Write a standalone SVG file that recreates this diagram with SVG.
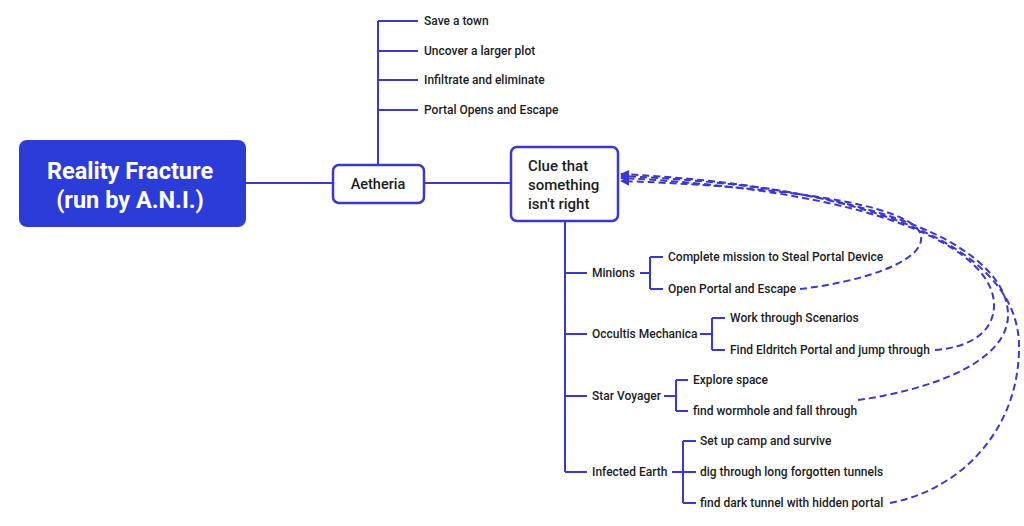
<svg xmlns="http://www.w3.org/2000/svg" width="1024" height="526" viewBox="0 0 1024 526">
<defs>
<style>
.ln{stroke:#3a38cf;stroke-width:2;fill:none}
.dl{stroke:#3a38cf;stroke-width:2;fill:none;stroke-dasharray:7 4;marker-end:url(#ah)}
.t{font-family:Roboto,"Liberation Sans",sans-serif;font-weight:500;font-size:12px;fill:#1c1c1c}
.box{fill:#fff;stroke:#3a38cf;stroke-width:2.5}
.rt{font-family:Roboto,"Liberation Sans",sans-serif;font-weight:700;font-size:23.5px;fill:#fff}
</style>
<marker id="ah" viewBox="0 0 10 10" refX="9" refY="5" markerWidth="4.5" markerHeight="4.5" orient="auto">
<path d="M0,0 L10,5 L0,10 z" fill="#3a38cf"/>
</marker>
</defs>
<rect width="1024" height="526" fill="#fff"/>
<g id="connectors">
<line class="ln" x1="246" y1="183" x2="333" y2="183"/>
<line class="ln" x1="424" y1="183" x2="511" y2="183"/>
<path class="ln" d="M378,165 V21 M378,21 H418 M378,51 H418 M378,80 H418 M378,110 H418"/>
<path class="ln" d="M565,221 V472 M565,273 H587 M565,334 H587 M565,396 H587 M565,472 H587"/>
<path class="ln" d="M640,273 H650 M650,257 V289 M650,257 H663 M650,289 H663"/>
<path class="ln" d="M700,334 H712 M712,318 V350 M712,318 H725 M712,350 H725"/>
<path class="ln" d="M664,396 H676 M676,380 V411 M676,380 H688 M676,411 H688"/>
<path class="ln" d="M672,472 H696 M683,441 V503 M683,441 H696 M683,503 H696"/>
<path class="dl" d="M800,289 C860,282 925,262 921,236 C917,210 820,188 621,181"/>
<path class="dl" d="M935,350 C965,348 994,335 994,305 C994,255 900,192 621,178"/>
<path class="dl" d="M858,400 C930,390 1008,362 1008,315 C1008,258 910,188 621,176"/>
<path class="dl" d="M890,503 C960,490 1020,430 1019,345 C1018,270 930,190 621,174"/>
</g>
<g id="root">
<rect x="19" y="140" width="227" height="87" rx="8" fill="#2c3cd8"/>
<text x="130" y="179" text-anchor="middle" class="rt">Reality Fracture</text>
<text x="130" y="208" text-anchor="middle" class="rt">(run by A.N.I.)</text>
</g>
<g id="aetheria">
<rect class="box" x="333" y="165" width="91" height="38" rx="6"/>
<text x="378" y="189" text-anchor="middle" class="t" style="font-size:14.5px">Aetheria</text>
</g>
<g id="clue">
<rect class="box" x="511" y="147" width="107" height="74" rx="6"/>
<text class="t" style="font-size:15px" x="528" y="171">Clue that</text>
<text class="t" style="font-size:15px" x="528" y="190">something</text>
<text class="t" style="font-size:15px" x="528" y="209">isn't right</text>
</g>
<g id="aetheria-children">
<text class="t" x="424" y="25">Save a town</text>
<text class="t" x="424" y="55">Uncover a larger plot</text>
<text class="t" x="424" y="84">Infiltrate and eliminate</text>
<text class="t" x="424" y="114">Portal Opens and Escape</text>
</g>
<g id="minions">
<text class="t" x="592" y="277">Minions</text>
<text class="t" x="668" y="261">Complete mission to Steal Portal Device</text>
<text class="t" x="668" y="293">Open Portal and Escape</text>
</g>
<g id="occultis">
<text class="t" x="592" y="338">Occultis Mechanica</text>
<text class="t" x="730" y="322">Work through Scenarios</text>
<text class="t" x="730" y="354">Find Eldritch Portal and jump through</text>
</g>
<g id="star-voyager">
<text class="t" x="592" y="400">Star Voyager</text>
<text class="t" x="693" y="384">Explore space</text>
<text class="t" x="693" y="415">find wormhole and fall through</text>
</g>
<g id="infected-earth">
<text class="t" x="592" y="476">Infected Earth</text>
<text class="t" x="700" y="445">Set up camp and survive</text>
<text class="t" x="700" y="476">dig through long forgotten tunnels</text>
<text class="t" x="700" y="507">find dark tunnel with hidden portal</text>
</g>
</svg>
